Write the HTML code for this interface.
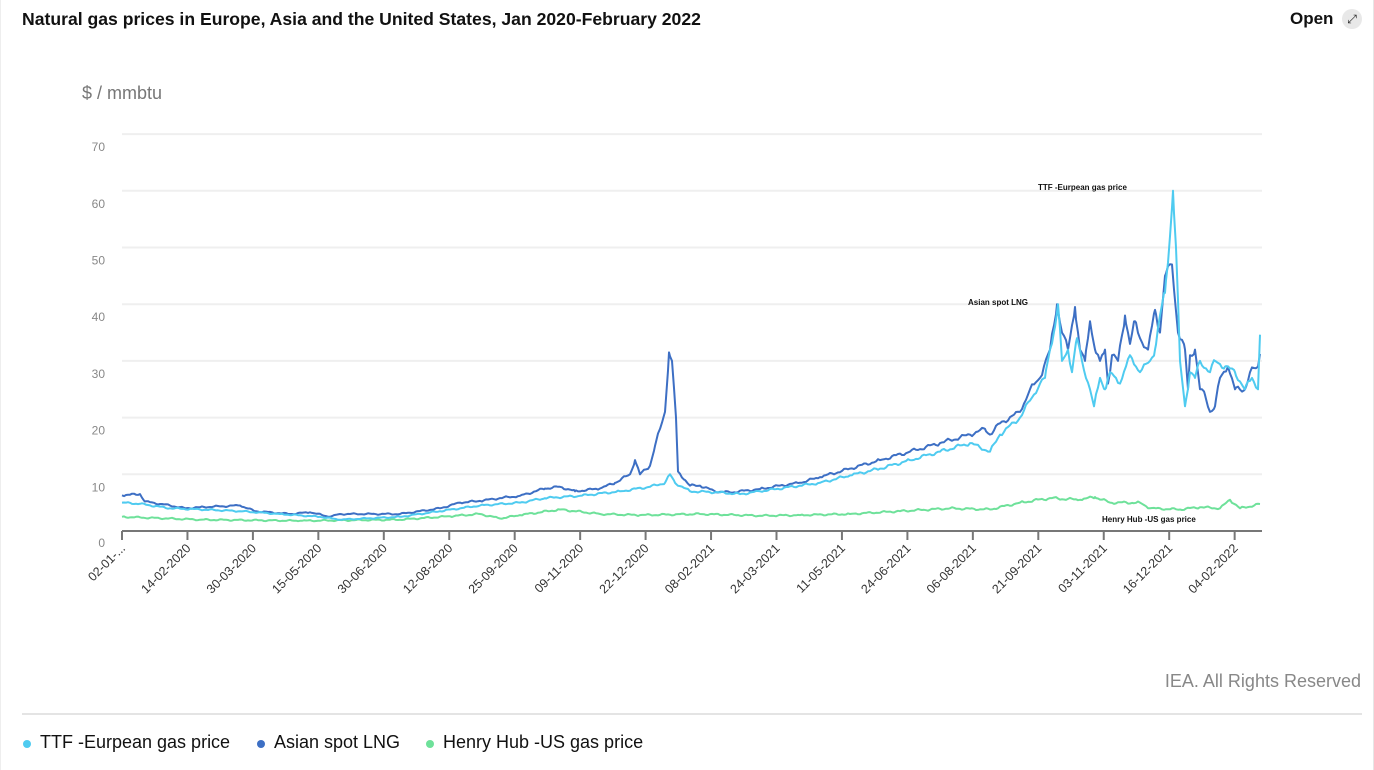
<!DOCTYPE html>
<html><head><meta charset="utf-8"><style>
body{margin:0;width:1374px;height:770px;background:#fff;font-family:"Liberation Sans",sans-serif;overflow:hidden;position:relative}
.t{position:absolute;white-space:nowrap}
.lg{position:absolute;top:732px;font-size:18px;color:#111;white-space:nowrap}
.dot{position:absolute;left:-17px;top:8px;width:8px;height:8px;border-radius:50%}
</style></head><body>
<div style="position:absolute;left:0;top:0;width:1372px;height:770px;border-right:2px solid #e6e6e6;border-left:1px solid #eee"></div>
<div class="t" style="left:22px;top:9px;font-size:17.6px;font-weight:bold;color:#111">Natural gas prices in Europe, Asia and the United States, Jan 2020-February 2022</div>
<div class="t" style="left:1290px;top:9px;font-size:17px;font-weight:bold;color:#111">Open</div>
<div style="position:absolute;left:1342px;top:9px;width:20px;height:20px;border-radius:50%;background:#e8e8e8;font-size:12px;text-align:center;line-height:20px;color:#222">⤢</div>
<div class="t" style="left:82px;top:83px;font-size:18px;color:#777">$ / mmbtu</div>
<svg id="s" width="1374" height="770" style="position:absolute;left:0;top:0" font-family="Liberation Sans, sans-serif"></svg>
<div class="t" style="right:13px;top:671px;font-size:18px;color:#888">IEA. All Rights Reserved</div>
<div style="position:absolute;left:22px;top:713px;width:1340px;height:2px;background:#e4e4e4"></div>
<div class="lg" style="left:40px"><span class="dot" style="background:#4fcbf0"></span>TTF -Eurpean gas price</div>
<div class="lg" style="left:274px"><span class="dot" style="background:#3d6fc4"></span>Asian spot LNG</div>
<div class="lg" style="left:443px"><span class="dot" style="background:#6ee19a"></span>Henry Hub -US gas price</div>
<script>
var s=document.getElementById('s'),h='';
var Y=function(v){return 531-v*5.67};
for(var i=1;i<=7;i++){var y=531-i*56.7;h+='<line x1="122" x2="1262" y1="'+y+'" y2="'+y+'" stroke="#efefef" stroke-width="2"/>';h+='<text x="105" y="'+(y+17)+'" font-size="12" fill="#888" text-anchor="end">'+(i*10)+'</text>';}
h+='<text x="105" y="547" font-size="12" fill="#888" text-anchor="end">0</text>';
h+='<line x1="122" x2="1262" y1="531" y2="531" stroke="#777" stroke-width="2"/>';
var labs=["02-01-...","14-02-2020","30-03-2020","15-05-2020","30-06-2020","12-08-2020","25-09-2020","09-11-2020","22-12-2020","08-02-2021","24-03-2021","11-05-2021","24-06-2021","06-08-2021","21-09-2021","03-11-2021","16-12-2021","04-02-2022"];
for(var i=0;i<18;i++){var x=122+i*65.45;h+='<line x1="'+x+'" x2="'+x+'" y1="531" y2="540" stroke="#777" stroke-width="2"/>';h+='<text transform="translate('+(x+4)+',549) rotate(-45)" font-size="12.5" fill="#333" text-anchor="end">'+labs[i]+'</text>';}
function series(k,col,amp,seed){var xs=[];for(var x=122;x<=1262;x+=2)xs.push(x);for(var j=0;j<k.length;j+=2)xs.push(k[j]);xs.sort(function(a,b){return a-b});
var pts=[];for(var q=0;q<xs.length;q++){var x=xs[q];var j=0;while(j<k.length-2&&k[j+2]<=x)j+=2;var x0=k[j],v0=k[j+1],x1=k[j+2],v1=k[j+3];var t=(x1>x0)?Math.min(1,Math.max(0,(x-x0)/(x1-x0))):0;var v=v0+(v1-v0)*t;
var isK=(x===x0||x===x1);if(!isK)v+=(Math.sin(x*0.37+seed)+Math.sin(x*0.91+seed*2)*0.6)*(amp*v+0.05);pts.push(x+','+Y(v).toFixed(1));}
h+='<polyline points="'+pts.join(' ')+'" fill="none" stroke="'+col+'" stroke-width="2" stroke-linejoin="round"/>';}
var hh=[122,2.5,200,2.0,300,1.8,400,2.0,450,2.6,480,3,500,2.2,520,2.8,560,3.8,600,3,640,2.8,700,3.0,760,2.7,800,2.8,850,3.0,900,3.5,950,4,990,3.8,1020,5,1050,5.8,1080,5.5,1095,6,1110,5,1140,5.0,1150,4,1180,3.8,1200,4.2,1220,4,1230,5.5,1240,4,1262,4.8];
var as=[122,6.3,140,6.5,145,5.2,170,4.5,185,4.0,200,4.2,240,4.5,255,3.5,290,3.0,310,3.3,330,2.5,340,3.0,400,3.0,440,4.0,460,5.0,480,5.3,500,5.8,520,6.2,545,7.5,560,7.8,575,7.0,600,7.5,615,8.5,630,10,635,12.5,640,10,650,11.5,655,15,660,18,665,21,669,31.5,672,30,676,20,678,10.5,685,9,690,8,700,8,715,7,730,6.8,760,7.4,780,8,800,8.5,820,9.5,850,11,880,12.5,910,14,940,15.5,970,17,985,18,990,17,1000,19,1020,21,1030,25,1040,27,1050,32,1057,40,1062,35,1068,32,1075,39.5,1080,32,1085,30,1090,37,1095,32,1100,30,1105,32,1108,26,1112,31,1118,30,1125,38,1130,33,1135,37,1140,34,1148,32,1155,39,1160,35,1165,45,1172,47,1178,35,1185,32,1188,25,1190,31,1195,32,1200,25,1205,24,1210,21,1215,22,1220,27,1228,29,1235,25,1245,25,1250,28,1258,29,1262,34];
var tt=[122,5,140,4.8,170,4,200,3.8,240,3.5,280,3,320,2.5,340,2,400,2.5,440,3.5,480,4.5,520,5,545,5.8,580,6.2,620,7,650,7.8,665,8.5,670,10,675,8.5,690,7,720,6.8,740,6.5,760,7,800,8,820,8.5,850,9.8,880,11,910,12.5,940,14,970,15.5,990,14,1000,17,1020,20,1030,23,1040,26,1045,27,1050,32,1055,36,1058,40,1062,30,1068,32,1072,28,1077,34,1082,30,1090,25,1094,22,1100,27,1105,25,1110,28,1120,26,1130,31,1140,28,1150,30,1155,32,1160,38,1165,42,1170,52,1173,60,1176,50,1180,30,1185,22,1190,28,1195,27,1200,30,1210,28,1215,30,1225,29,1235,28,1245,25,1252,27,1258,25,1262,44];
series(hh,'#6ee19a',0.02,1);series(as,'#3d6fc4',0.012,3);series(tt,'#4fcbf0',0.012,5);
h+='<text x="1038" y="190" font-size="8" font-weight="bold" fill="#111">TTF -Eurpean gas price</text>';
h+='<text x="968" y="305" font-size="8" font-weight="bold" fill="#111">Asian spot LNG</text>';
h+='<text x="1102" y="522" font-size="8" font-weight="bold" fill="#111">Henry Hub -US gas price</text>';
s.innerHTML=h;
</script>
</body></html>
